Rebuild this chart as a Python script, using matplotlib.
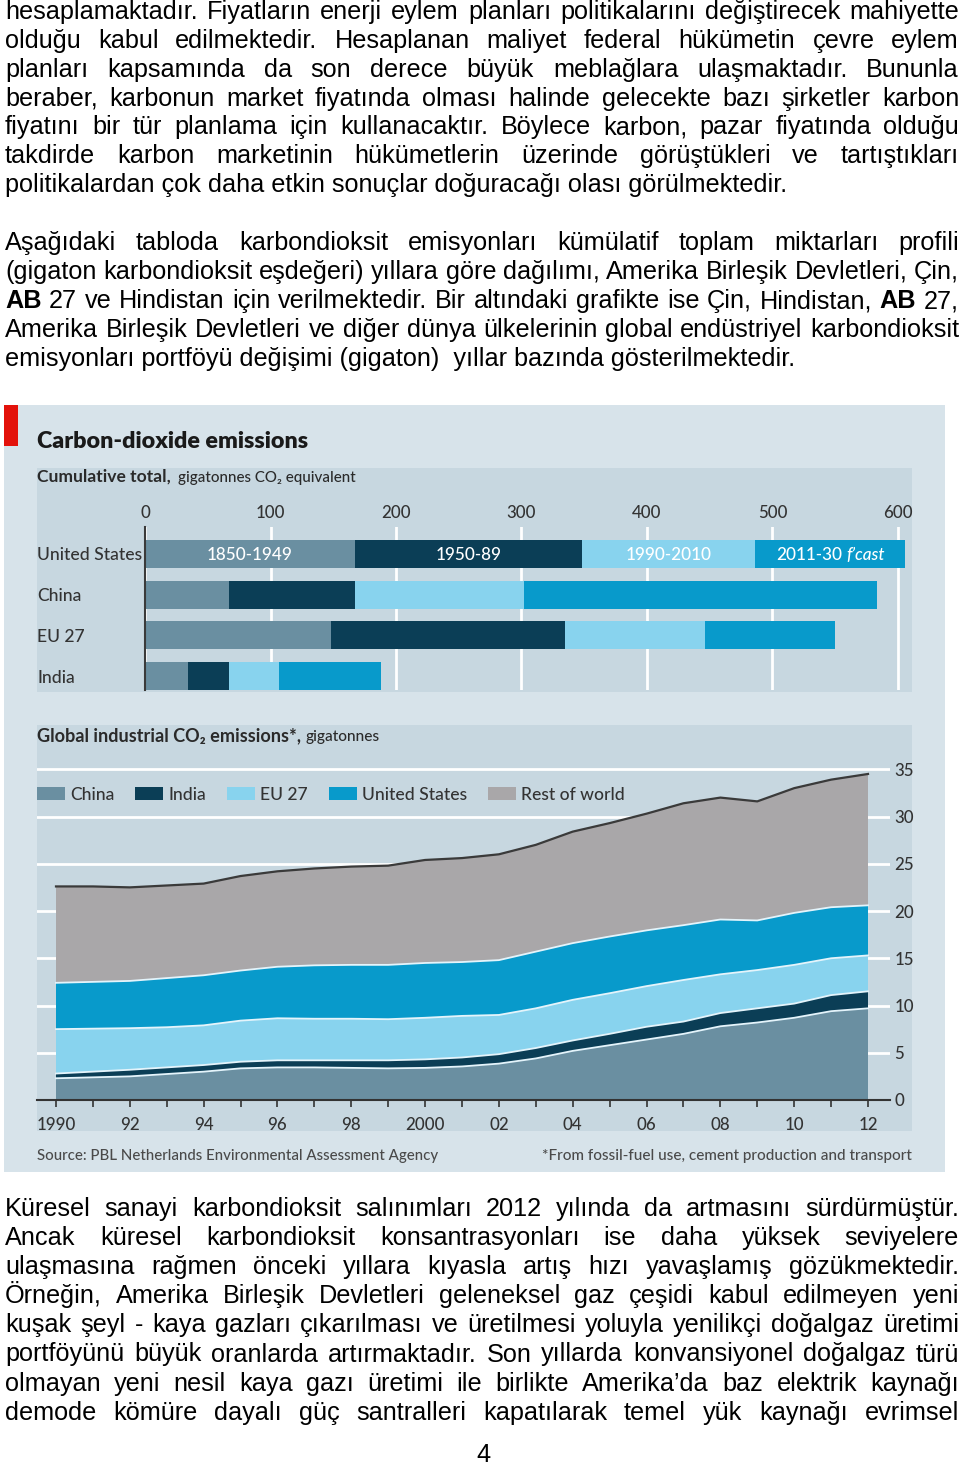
import matplotlib
matplotlib.use('Agg')
import matplotlib.pyplot as plt
from matplotlib.patches import Rectangle

# ---------------- data ----------------
regions = ['United States', 'China', 'EU 27', 'India']
period_labels = ['1850-1949', '1950-89', '1990-2010', '2011-30']
seg_1850_1949 = [167, 67, 148, 34]
seg_1950_89 = [181, 100, 187, 33]
seg_1990_2010 = [138, 135, 111, 40]
seg_2011_30 = [120, 281, 104, 81]
bar_ticks = [0, 100, 200, 300, 400, 500, 600]

years = [1990, 1991, 1992, 1993, 1994, 1995, 1996, 1997, 1998, 1999, 2000, 2001,
         2002, 2003, 2004, 2005, 2006, 2007, 2008, 2009, 2010, 2011, 2012]
year_labels = ['1990', '', '92', '', '94', '', '96', '', '98', '', '2000', '',
               '02', '', '04', '', '06', '', '08', '', '10', '', '12']
china = [2.3, 2.4, 2.5, 2.75, 3.0, 3.35, 3.45, 3.45, 3.4, 3.35, 3.4, 3.55,
         3.85, 4.4, 5.2, 5.8, 6.4, 7.0, 7.8, 8.2, 8.7, 9.4, 9.7]
india = [0.5, 0.6, 0.7, 0.7, 0.7, 0.7, 0.75, 0.75, 0.8, 0.85, 0.9, 0.95,
         1.0, 1.1, 1.1, 1.2, 1.35, 1.3, 1.4, 1.5, 1.5, 1.7, 1.8]
eu27 = [4.7, 4.55, 4.4, 4.25, 4.2, 4.35, 4.45, 4.4, 4.4, 4.35, 4.4, 4.4,
        4.15, 4.2, 4.3, 4.3, 4.3, 4.4, 4.1, 4.05, 4.1, 3.9, 3.8]
united_states = [4.9, 4.95, 5.0, 5.2, 5.3, 5.3, 5.45, 5.65, 5.7, 5.75, 5.8, 5.7,
                 5.8, 6.0, 6.0, 6.0, 5.9, 5.8, 5.8, 5.25, 5.5, 5.4, 5.3]
rest_of_world = [10.2, 10.1, 9.9, 9.8, 9.7, 10.0, 10.1, 10.25, 10.4, 10.5, 10.9, 11.0,
                 11.2, 11.3, 11.8, 12.0, 12.35, 12.9, 12.9, 12.6, 13.2, 13.5, 13.9]
area_names = ['China', 'India', 'EU 27', 'United States', 'Rest of world']
y_ticks = [0, 5, 10, 15, 20, 25, 30, 35]

para1 = [
    "hesaplamaktadır. Fiyatların enerji eylem planları politikalarını değiştirecek mahiyette",
    "olduğu kabul edilmektedir. Hesaplanan maliyet federal hükümetin çevre eylem",
    "planları kapsamında da son derece büyük meblağlara ulaşmaktadır. Bununla",
    "beraber, karbonun market fiyatında olması halinde gelecekte bazı şirketler karbon",
    "fiyatını bir tür planlama için kullanacaktır. Böylece karbon, pazar fiyatında olduğu",
    "takdirde karbon marketinin hükümetlerin üzerinde görüştükleri ve tartıştıkları",
    "politikalardan çok daha etkin sonuçlar doğuracağı olası görülmektedir.",
]
para2 = [
    "Aşağıdaki tabloda karbondioksit emisyonları kümülatif toplam miktarları profili",
    "(gigaton karbondioksit eşdeğeri) yıllara göre dağılımı, Amerika Birleşik Devletleri, Çin,",
    "**AB** 27 ve Hindistan için verilmektedir. Bir altındaki grafikte ise Çin, Hindistan, **AB** 27,",
    "Amerika Birleşik Devletleri ve diğer dünya ülkelerinin global endüstriyel karbondioksit",
    "emisyonları portföyü değişimi (gigaton)  yıllar bazında gösterilmektedir.",
]
para3 = [
    "Küresel sanayi karbondioksit salınımları 2012 yılında da artmasını sürdürmüştür.",
    "Ancak küresel karbondioksit konsantrasyonları ise daha yüksek seviyelere",
    "ulaşmasına rağmen önceki yıllara kıyasla artış hızı yavaşlamış gözükmektedir.",
    "Örneğin, Amerika Birleşik Devletleri geleneksel gaz çeşidi kabul edilmeyen yeni",
    "kuşak şeyl - kaya gazları çıkarılması ve üretilmesi yoluyla yenilikçi doğalgaz üretimi",
    "portföyünü büyük oranlarda artırmaktadır. Son yıllarda konvansiyonel doğalgaz türü",
    "olmayan yeni nesil kaya gazı üretimi ile birlikte Amerika’da baz elektrik kaynağı",
    "demode kömüre dayalı güç santralleri kapatılarak temel yük kaynağı evrimsel",
]

# ---------------- styles ----------------
W, H = 960, 1466
BODY = ['Liberation Sans', 'DejaVu Sans']
CHART = ['Lato', 'DejaVu Sans']
CW = 'medium'
C_1850, C_1950, C_1990, C_2011 = '#6a8fa1', '#0b3e56', '#88d3ee', '#089acb'
area_colors = ['#6a8fa1', '#0b3e56', '#88d3ee', '#089acb', '#a9a7a9']
OUTER = '#d7e3ea'
INNER = '#c7d7e0'
DARK = '#333333'

fig = plt.figure(figsize=(W / 100, H / 100), dpi=100)
fig.patch.set_facecolor('white')
bg = fig.add_axes([0, 0, 1, 1])
bg.set_xlim(0, W)
bg.set_ylim(H, 0)
bg.axis('off')
renderer = fig.canvas.get_renderer()


def tw(s, size, family, weight='normal', style='normal'):
    t = bg.text(0, 0, s, fontsize=size, family=family, fontweight=weight, fontstyle=style)
    w = t.get_window_extent(renderer).width
    t.remove()
    return w


def fit(s, width, family, weight='normal', style='normal'):
    return 20.0 * width / tw(s, 20.0, family, weight, style)


def px_axes(l, t, r, b):
    return fig.add_axes([l / W, 1 - b / H, (r - l) / W, (b - t) / H])


# ---------------- body text ----------------
XL, XR = 5, 959
FS = fit(para1[-1], 780, BODY)


def draw_par(lines, y0, step, last_justified=False):
    for i, line in enumerate(lines):
        y = y0 + i * step
        justify = (i < len(lines) - 1) or last_justified
        if not justify:
            bg.text(XL, y, line, fontsize=FS, family=BODY, va='baseline', ha='left', color='black')
            continue
        toks = []
        for w in line.split():
            if w.startswith('**'):
                toks.append((w.strip('*'), 'bold'))
            else:
                toks.append((w, 'normal'))
        widths = [tw(w, FS, BODY, wt) for w, wt in toks]
        gap = (XR - XL - sum(widths)) / (len(toks) - 1)
        x = XL
        for (w, wt), wd in zip(toks, widths):
            bg.text(x, y, w, fontsize=FS, family=BODY, fontweight=wt, va='baseline', ha='left',
                    color='black')
            x += wd + gap


draw_par(para1, 19, 28.85)
draw_par(para2, 250, 29.0)
draw_par(para3, 1216, 29.1, last_justified=True)
bg.text(483, 1462, '4', fontsize=FS, family=BODY, ha='center', va='baseline', color='black')

# ---------------- panels ----------------
bg.add_patch(Rectangle((4, 405), 941, 767, facecolor=OUTER, edgecolor='none', zorder=0))
bg.add_patch(Rectangle((37, 468), 875, 224, facecolor=INNER, edgecolor='none', zorder=0.5))
bg.add_patch(Rectangle((37, 725), 875, 406, facecolor=INNER, edgecolor='none', zorder=0.5))
bg.add_patch(Rectangle((4, 405), 14, 41, facecolor='#e3120b', edgecolor='none', zorder=1))

fs_title = fit('Carbon-dioxide emissions', 271, CHART, 'heavy')
bg.text(37, 448, 'Carbon-dioxide emissions', fontsize=fs_title, family=CHART, fontweight='heavy',
        color='#1a1a1a', va='baseline')
fs_sub_b = fit('Cumulative total,', 133, CHART, 'bold')
bg.text(37, 482, 'Cumulative total,', fontsize=fs_sub_b, family=CHART, fontweight='bold',
        color='#2a2a2a', va='baseline')
fs_sub_r = fit('gigatonnes CO₂ equivalent', 177, CHART, CW)
bg.text(178, 482, 'gigatonnes CO₂ equivalent', fontsize=fs_sub_r, family=CHART, fontweight=CW,
        color='#2a2a2a', va='baseline')

fs_lab = fit('United States', 105, CHART, CW)
fs_tick = fit('1990', 39, CHART, CW)
fs_inbar = fit('1850-1949', 86, CHART, CW)

# ---------------- bar chart ----------------
PXU = 1.255
ax1 = px_axes(145, 527, 905, 690)
ax1.set_facecolor('none')
ax1.set_xlim(0, (905 - 145) / PXU)
yc0, ystep = 554, 40.67
ax1.set_ylim((690 - yc0) / ystep, (527 - yc0) / ystep)
ypos = list(range(len(regions)))
segs = [seg_1850_1949, seg_1950_89, seg_1990_2010, seg_2011_30]
seg_cols = [C_1850, C_1950, C_1990, C_2011]
left = [0] * len(regions)
mids = []
for seg, col in zip(segs, seg_cols):
    ax1.barh(ypos, seg, left=left, height=0.69, color=col, zorder=2)
    mids.append(left[0] + seg[0] / 2)
    left = [a + b for a, b in zip(left, seg)]
ax1.set_xticks(bar_ticks)
ax1.set_xticklabels([str(t) for t in bar_ticks])
ax1.xaxis.tick_top()
ax1.grid(axis='x', color='white', lw=2)
ax1.grid(axis='y', visible=False)
ax1.set_axisbelow(True)
ax1.tick_params(axis='x', length=0, pad=4.5, labelsize=fs_tick, labelcolor=DARK)
ax1.set_yticks(ypos)
ax1.set_yticklabels(regions)
ax1.tick_params(axis='y', length=0, pad=(145 - 37) * 0.72, labelsize=fs_lab, labelcolor=DARK)
for lbl in ax1.get_yticklabels() + ax1.get_xticklabels():
    lbl.set_family(CHART)
    lbl.set_fontweight(CW)
for lbl in ax1.get_yticklabels():
    lbl.set_ha('left')
for s in ['top', 'right', 'bottom']:
    ax1.spines[s].set_visible(False)
ax1.spines['left'].set_color('#3a3a3a')
ax1.spines['left'].set_linewidth(1.5)
ax1.spines['left'].set_zorder(3)

for k in range(3):
    ax1.text(mids[k], 0, period_labels[k], ha='center', va='center_baseline', color='white',
             fontsize=fs_inbar, family=CHART, fontweight=CW, zorder=4)
w1 = tw(period_labels[3], fs_inbar, CHART, CW) + 0.25 * fs_inbar / 0.72
w2 = tw('f’cast', fs_inbar, CHART, CW, style='italic')
tot = w1 + w2
ax1.annotate(period_labels[3], xy=(mids[3], 0), xytext=(-tot / 2, 0), textcoords='offset pixels',
             ha='left', va='center_baseline', color='white', fontsize=fs_inbar, family=CHART,
             fontweight=CW, zorder=4)
ax1.annotate('f’cast', xy=(mids[3], 0), xytext=(-tot / 2 + w1, 0), textcoords='offset pixels',
             ha='left', va='center_baseline', color='white', fontsize=fs_inbar, family=CHART,
             fontweight=CW, fontstyle='italic', zorder=4)

# ---------------- area chart ----------------
fs_t2b = fit('Global industrial CO₂ emissions*,', 265, CHART, 'bold')
bg.text(37, 741, 'Global industrial CO₂ emissions*,', fontsize=fs_t2b, family=CHART,
        fontweight='bold', color='#2a2a2a', va='baseline')
fs_t2r = fit('gigatonnes', 74, CHART, CW)
bg.text(305, 741, 'gigatonnes', fontsize=fs_t2r, family=CHART, fontweight=CW, color='#2a2a2a',
        va='baseline')

# legend
x = 37
for name, col in zip(area_names, area_colors):
    bg.add_patch(Rectangle((x, 787), 28, 12.5, facecolor=col, edgecolor='none', zorder=3))
    bg.text(x + 33, 800, name, fontsize=fs_lab, family=CHART, fontweight=CW, color=DARK,
            va='baseline', zorder=3)
    x = x + 33 + tw(name, fs_lab, CHART, CW) + 21

PXY = 36.91
PXV = 9.45
ax2 = px_axes(37, 750, 890, 1100)
ax2.set_facecolor('none')
ax2.set_xlim(years[0] - (56 - 37) / PXY, years[-1] + (890 - 868) / PXY)
ax2.set_ylim(0, (1100 - 750) / PXV)
series = [china, india, eu27, united_states, rest_of_world]
ax2.stackplot(years, *series, colors=area_colors, linewidth=0, zorder=2)
cum = [0.0] * len(years)
for i, s in enumerate(series):
    cum = [a + b for a, b in zip(cum, s)]
    if i < len(series) - 1:
        ax2.plot(years, cum, color='#e4f4fb', lw=1.3, zorder=3)
    else:
        ax2.plot(years, cum, color='#3a3a3a', lw=1.6, zorder=3)
ax2.set_yticks(y_ticks)
ax2.set_yticklabels([str(v) for v in y_ticks])
ax2.yaxis.tick_right()
ax2.grid(axis='y', color='white', lw=2)
ax2.grid(axis='x', visible=False)
ax2.set_axisbelow(True)
ax2.tick_params(axis='y', length=0, pad=3, labelsize=fs_tick, labelcolor=DARK)
ax2.set_xticks(years)
ax2.set_xticklabels(year_labels)
ax2.tick_params(axis='x', direction='out', length=5, width=1.2, color=DARK, pad=7.5,
                labelsize=fs_tick, labelcolor=DARK)
for lbl in ax2.get_yticklabels() + ax2.get_xticklabels():
    lbl.set_family(CHART)
    lbl.set_fontweight(CW)
for s in ['top', 'right', 'left']:
    ax2.spines[s].set_visible(False)
ax2.spines['bottom'].set_color(DARK)
ax2.spines['bottom'].set_linewidth(1.5)
ax2.spines['bottom'].set_zorder(4)

fs_src = fit('Source: PBL Netherlands Environmental Assessment Agency', 400, CHART, CW)
bg.text(37, 1160, 'Source: PBL Netherlands Environmental Assessment Agency', fontsize=fs_src,
        family=CHART, fontweight=CW, color='#4a4a4a', va='baseline')
fs_fn = fit('*From fossil-fuel use, cement production and transport', 369, CHART, CW)
bg.text(912, 1160, '*From fossil-fuel use, cement production and transport', fontsize=fs_fn,
        family=CHART, fontweight=CW, color='#4a4a4a', va='baseline', ha='right')

fig.savefig('out.png', dpi=100, facecolor='white')
